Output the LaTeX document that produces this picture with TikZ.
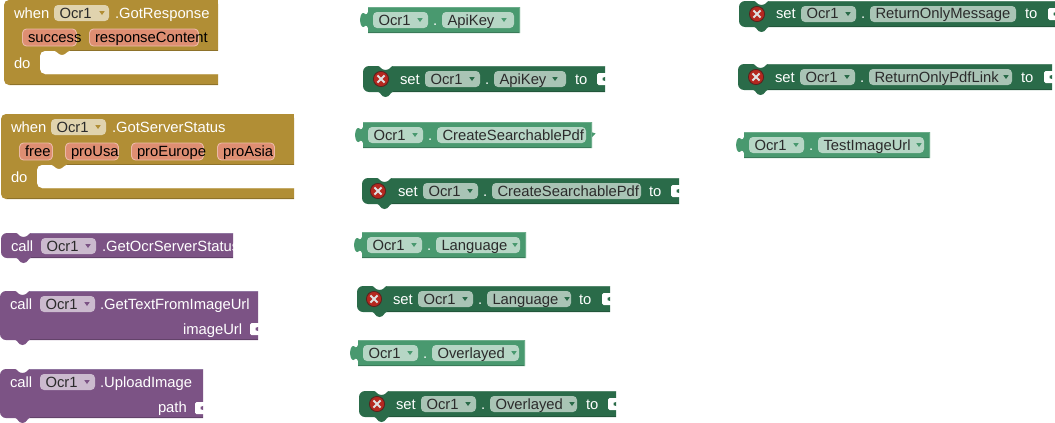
\documentclass[tikz,border=0pt]{standalone}
\usepackage{fontspec}
\setmainfont{Liberation Sans}
\definecolor{goldB}{HTML}{B18E35}\definecolor{goldD}{HTML}{8E722A}\definecolor{goldL}{HTML}{C5AB68}\definecolor{goldP}{HTML}{E0D3AE}
\definecolor{purpB}{HTML}{7C5385}\definecolor{purpD}{HTML}{63426A}\definecolor{purpL}{HTML}{9075A0}\definecolor{purpP}{HTML}{CBBACE}
\definecolor{lgrB}{HTML}{49996F}\definecolor{lgrD}{HTML}{3A7A59}\definecolor{lgrL}{HTML}{6DAD8B}\definecolor{lgrP}{HTML}{B6D6C5}
\definecolor{dgrB}{HTML}{2A6B49}\definecolor{dgrD}{HTML}{22563A}\definecolor{dgrL}{HTML}{55886D}\definecolor{dgrP}{HTML}{A9C4B5}
\definecolor{parF}{HTML}{DE8E72}\definecolor{parE}{HTML}{EBB9A6}
\definecolor{errF}{HTML}{B5281F}\definecolor{errE}{HTML}{55241F}\definecolor{pillT}{HTML}{2B2B2B}
\newcount\nid
\tikzset{
  lab/.style={inner sep=0pt,outer sep=0pt,anchor=base west,font=\fontsize{14.8}{16}\selectfont},
  pillshape/.style={rounded corners=4pt},
}
\newcommand\lbl[4]{\global\advance\nid by 1
  \node[lab,text=#3] (t\the\nid) at (#1,{#2+5}) {#4};}
\newcommand\pill[6]{\fill[#6P,pillshape] (#1,#3) rectangle (#2,{#3+16});
  \lbl{#1+5.5}{#3+8}{pillT}{#4}
  \if\relax\detokenize{#5}\relax\else
  \fill[#6B] ({#5-2.7},{#3+6.2}) -- ({#5+2.7},{#3+6.2}) -- (#5,{#3+10}) -- cycle;\fi}
\newcommand\stmt[5]{
  \fill[#5B] ({#1+15},#3) .. controls ({#1+17},#3) and ({#1+18},{#3+4}) .. ({#1+22.5},{#3+4})
    .. controls ({#1+27},{#3+4}) and ({#1+28},#3) .. ({#1+30},#3) -- (#2,#3) -- (#2,#4) -- ({#1+30},#4)
    .. controls ({#1+27},#4) and ({#1+27},{#4+5}) .. ({#1+22.5},{#4+5})
    .. controls ({#1+18},{#4+5}) and ({#1+18},#4) .. ({#1+15},#4)
    [rounded corners=6pt] -- (#1,#4) -- (#1,#3) [sharp corners] -- cycle;
  \draw[#5D,line width=.8pt] ({#1+30},{#4-.3}) -- ({#2},{#4-.3});
  \draw[#5L,line width=.6pt] ({#1+30},{#3+.3}) -- ({#2},{#3+.3});}
\newcommand\valblk[5]{
  \fill[#5B] (#1,#3) -- (#2,#3) -- (#2,#4) -- (#1,#4) -- (#1,{#3+21})
    .. controls ({#1-1},{#3+18}) and ({#1-3},{#3+18}) .. ({#1-4.5},{#3+20})
    .. controls ({#1-9},{#3+20.5}) and ({#1-9},{#3+5.5}) .. ({#1-4.5},{#3+6})
    .. controls ({#1-3},{#3+8}) and ({#1-1},{#3+8}) .. (#1,{#3+5}) -- cycle;
  \draw[#5D,line width=.8pt] (#1,{#4-.3}) -- (#2,{#4-.3});
  \draw[#5L,line width=.6pt] (#1,{#3+.3}) -- (#2,{#3+.3});
  \draw[#5L,line width=.6pt] ({#2-.3},#3) -- ({#2-.3},#4);}
\newcommand\sock[4]{
  \fill[white] ({#1+1.5},#3) -- ({#2+1},#3) -- ({#2+1},{#3+3.5}) -- ({#2-2.5},{#3+4.8})
    -- ({#2-2.5},{#4-4.8}) -- ({#2+1},{#4-3.5}) -- ({#2+1},#4) -- ({#1+1.5},#4)
    .. controls ({#1+.4},#4) and (#1,{#4-.4}) .. (#1,{#4-1.5}) -- (#1,{#3+1.5})
    .. controls (#1,{#3+.4}) and ({#1+.4},#3) .. ({#1+1.5},#3) -- cycle;}
\newcommand\erricon[2]{
  \fill[errF,draw=errE,line width=.8pt] (#1,#2) circle (7.6);
  \draw[white!88!black,line width=2pt] ({#1-3.6},{#2-3.6}) -- ({#1+3.6},{#2+3.6}) ({#1-3.6},{#2+3.6}) -- ({#1+3.6},{#2-3.6});}
\newcommand\setblk[6]{
  \stmt{#1}{#2}{#3}{#3+26}{dgr}
  \erricon{#4}{#3+13}
  \lbl{#5}{#3+13}{white}{set}
  \pill{#6}{#6+55}{#3+5}{Ocr1}{#6+47}{dgr}
  \lbl{#6+60}{#3+13}{white}{.}}
\newcommand\tosock[3]{
  \lbl{#1}{#3+13}{white}{to}
  \sock{#2-8}{#2}{#3+7}{#3+19}}
\newcommand\getblk[4]{
  \valblk{#1}{#2}{#3}{#3+26}{lgr}
  \pill{#4}{#4+55}{#3+5}{Ocr1}{#4+47}{lgr}
  \lbl{#4+60}{#3+13}{white}{.}}
\newcommand\hatblk[7]{
  \fill[goldB,rounded corners=4pt] (#1,#3) -- (#2,#3) [sharp corners] -- (#2,#6) [rounded corners=5pt] -- (#1,#6) -- cycle;
  \fill[goldB] ({#1+8},#3) rectangle (#2,{#3+8});
  \fill[white] ({#2+1},#4) -- ({#7+30},#4) .. controls ({#7+27},#4) and ({#7+26},{#4+4}) .. ({#7+22},{#4+4})
    .. controls ({#7+18},{#4+4}) and ({#7+17},#4) .. ({#7+14},#4)
    [rounded corners=5pt] -- (#7,#4) -- (#7,#5) [sharp corners] -- ({#2+1},#5) -- cycle;
  \draw[goldL,line width=.8pt] ({#7+5},{#5+.3}) -- ({#2},{#5+.3});
  \draw[goldD,line width=.8pt] ({#7+30},{#4-.2}) -- ({#2},{#4-.2});
  \draw[goldD,line width=.9pt] ({#1+6},{#6-.3}) -- ({#2},{#6-.3});}
\newcommand\parpill[4]{
  \fill[parF,draw=parE,line width=.9pt,pillshape] ({#1+.5},#3) rectangle ({#2-.5},{#3+17});
  \lbl{#1+6}{#3+8.5}{black}{#4}}
\begin{document}
\begin{tikzpicture}[x=1pt,y=-1pt]
\useasboundingbox (0,0) rectangle (1055,423);
\fill[white] (0,0) rectangle (1055,423);
\hatblk{4}{218}{0}{51}{74}{85}{40}
\lbl{14}{13}{white}{when}
\pill{54}{109}{5}{Ocr1}{102}{gold}
\lbl{115}{13}{white}{.GotResponse}
\parpill{22}{77}{29}{success}
\parpill{89}{199}{29}{responseContent}
\lbl{14}{63}{white}{do}
\hatblk{1}{294}{114}{165}{188}{199}{37}
\lbl{11}{127}{white}{when}
\pill{51}{106}{119}{Ocr1}{98}{gold}
\lbl{112}{127}{white}{.GotServerStatus}
\parpill{19}{53}{143}{free}
\parpill{65}{119}{143}{proUsa}
\parpill{131}{204}{143}{proEurope}
\parpill{217}{275}{143}{proAsia}
\lbl{11}{177}{white}{do}
\stmt{1}{233}{233}{258}{purp}
\lbl{11}{246}{white}{call}
\pill{41}{96}{238}{Ocr1}{88}{purp}
\begin{scope}
\clip (100,230) rectangle (233,260);
\lbl{102}{246}{white}{.GetOcrServerStatus}
\end{scope}
\stmt{0}{258}{291}{340}{purp}
\lbl{10}{304}{white}{call}
\pill{40}{95}{296}{Ocr1}{87}{purp}
\lbl{100}{304}{white}{.GetTextFromImageUrl}
\lbl{183}{329}{white}{imageUrl}
\sock{250}{258}{323}{335}
\stmt{0}{203}{369}{418}{purp}
\lbl{10}{382}{white}{call}
\pill{40}{95}{374}{Ocr1}{87}{purp}
\lbl{100}{382}{white}{.UploadImage}
\lbl{158}{407}{white}{path}
\sock{195}{203}{402}{414}
\getblk{368}{520}{7}{373}
\pill{442}{514}{12}{ApiKey}{504}{lgr}
\setblk{363}{605}{66}{381}{400}{425}
\pill{494}{566}{71}{ApiKey}{555}{dgr}
\tosock{575}{605}{66}
\fill[lgrB] (591,132) -- (595.5,133.5) -- (591,138) -- cycle;
\getblk{363}{592}{122}{368}
\pill{437}{586}{127}{CreateSearchablePdf}{}{lgr}
\setblk{362}{679}{178}{378}{398}{423}
\pill{492}{641}{183}{CreateSearchablePdf}{}{dgr}
\tosock{649}{679}{178}
\getblk{362}{526}{232}{367}
\pill{436}{520}{237}{Language}{515}{lgr}
\setblk{357}{610}{286}{374}{393}{418}
\pill{487}{571}{291}{Language}{567}{dgr}
\tosock{579}{610}{286}
\getblk{358}{525}{340}{363}
\pill{432}{519}{345}{Overlayed}{514}{lgr}
\setblk{359}{616}{391}{377}{396}{421}
\pill{490}{577}{396}{Overlayed}{572}{dgr}
\tosock{586}{616}{391}
\setblk{739}{1056}{1}{757}{776}{801}
\pill{870}{1016}{6}{ReturnOnlyMessage}{}{dgr}
\lbl{1025}{14}{white}{to}
\sock{1048}{1056}{8}{20}
\setblk{738}{1052}{64}{756}{775}{800}
\pill{869}{1012}{69}{ReturnOnlyPdfLink}{1006}{dgr}
\tosock{1021}{1052}{64}
\getblk{744}{930}{132}{749}
\pill{818}{924}{137}{TestImageUrl}{919}{lgr}
\end{tikzpicture}
\end{document}
